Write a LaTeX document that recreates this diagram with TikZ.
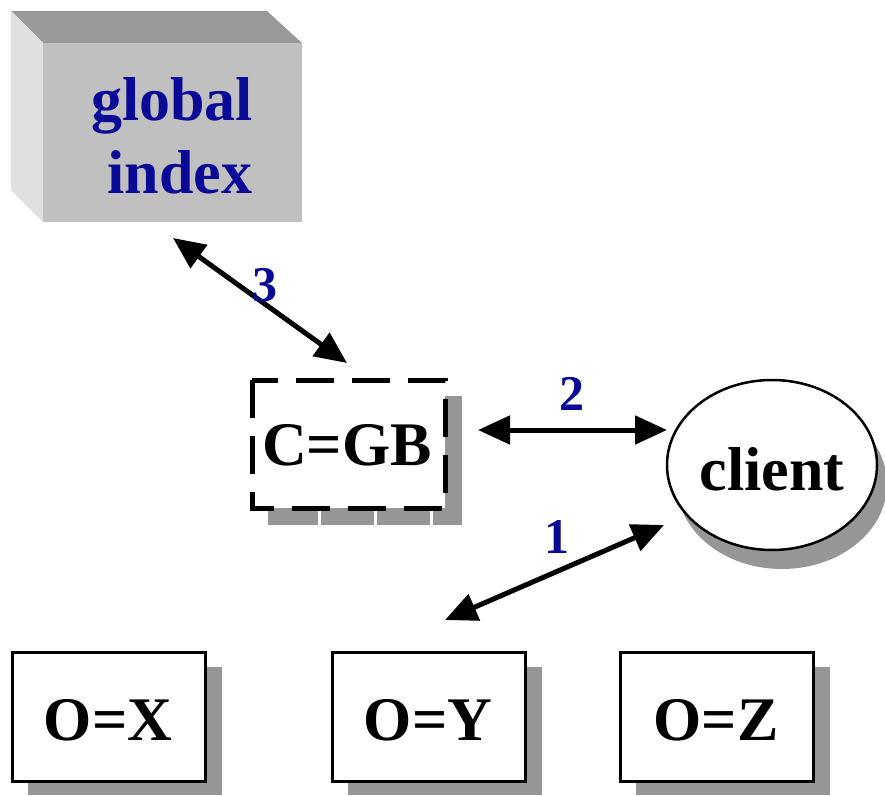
\documentclass[tikz,border=0pt]{standalone}
\usepackage{fontspec}
\setmainfont{Liberation Serif}
\usetikzlibrary{arrows.meta,shapes.geometric}
\definecolor{navy}{RGB}{10,10,150}
\definecolor{shadowgray}{RGB}{150,150,150}
\definecolor{topgray}{RGB}{153,153,153}
\definecolor{sidegray}{RGB}{224,224,224}
\definecolor{frontgray}{RGB}{192,192,192}
\tikzset{
  bigtext/.style={font=\fontsize{62}{74}\selectfont\bfseries, inner sep=0pt},
  numlabel/.style={font=\fontsize{50}{60}\selectfont\bfseries, text=navy, inner sep=0pt},
  boxshadow/.style={fill=shadowgray, draw=none},
  plainbox/.style={draw=black, line width=3pt, fill=white},
  dashbox/.style={draw=black, line width=5pt, fill=white, dash pattern=on 38pt off 18pt},
  dblarrow/.style={line width=5pt, {Triangle[length=32pt,width=28pt]}-{Triangle[length=32pt,width=28pt]}}
}
\begin{document}
\begin{tikzpicture}[x=1pt,y=-1pt]
\useasboundingbox (0,0) rectangle (885,795);

% global index 3D box
\fill[topgray] (11,11) -- (267,11) -- (302,43) -- (43,43) -- cycle;
\fill[sidegray] (11,11) -- (43,43) -- (43,222) -- (11,190) -- cycle;
\fill[frontgray] (43,43) rectangle (302,222);
\node[bigtext, text=navy, anchor=base] (gl1) at (172,120) {global};
\node[bigtext, text=navy, anchor=base] (gl2) at (180,193) {index};

% C=GB dashed box with shadow
\fill[boxshadow] (268,396) rectangle (462,525);
\foreach \gx in {318,374,430} {\fill[white] (\gx,509) rectangle (\gx+3,525);}
\draw[dashbox] (252,380) rectangle (445,508);
\node[bigtext, anchor=base] (cgb) at (347,465) {C=GB};

% client ellipse with shadow
\fill[boxshadow] (782,484) ellipse [x radius=105, y radius=85];
\draw[draw=black, line width=2.5pt, fill=white] (772,465) ellipse [x radius=105, y radius=85];
\node[bigtext, anchor=base] (client) at (772,490) {client};

% bottom boxes
\fill[boxshadow] (28,667) rectangle (222,795);
\draw[plainbox] (12,652) rectangle (205,781);
\node[bigtext, anchor=base] (ox) at (108,740) {O=X};

\fill[boxshadow] (348,667) rectangle (542,795);
\draw[plainbox] (332,652) rectangle (525,781);
\node[bigtext, anchor=base] (oy) at (428,740) {O=Y};

\fill[boxshadow] (636,667) rectangle (830,795);
\draw[plainbox] (620,652) rectangle (813,781);
\node[bigtext, anchor=base] (oz) at (716,740) {O=Z};

% arrow end points
\coordinate (a3s) at (173,238);
\coordinate (a3e) at (347,363);
\coordinate (a2s) at (478,430);
\coordinate (a2e) at (667,430);
\coordinate (a1s) at (664,525);
\coordinate (a1e) at (445,620);

\draw[dblarrow] (a3s) -- (a3e);
\draw[dblarrow] (a2s) -- (a2e);
\draw[dblarrow] (a1s) -- (a1e);

\node[numlabel] (n3) at (265,285) {3};
\node[numlabel] (n2) at (572,394) {2};
\node[numlabel] (n1) at (557,537) {1};
\end{tikzpicture}
\end{document}
